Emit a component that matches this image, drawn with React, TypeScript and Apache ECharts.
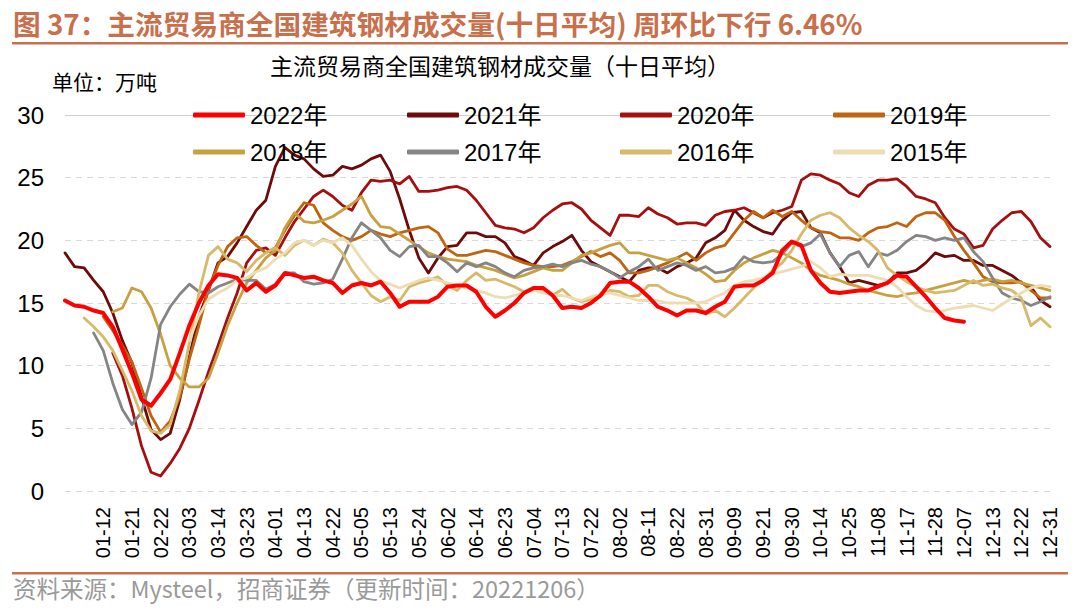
import React, { useEffect, useRef } from "react";
import * as echarts from "echarts";

const categories = [
  "01-04","01-06","01-07","01-10","01-12","01-14","01-18","01-21","02-10","02-17",
  "02-22","02-24","03-01","03-03","03-08","03-10","03-14","03-16","03-21","03-23",
  "03-28","03-30","04-01","04-07","04-11","04-13","04-18","04-20","04-22","04-27",
  "04-29","05-05","05-09","05-11","05-13","05-18","05-20","05-24","05-26","05-30",
  "06-02","06-07","06-09","06-14","06-16","06-21","06-23","06-28","06-30","07-04",
  "07-06","07-11","07-13","07-18","07-20","07-22","07-27","07-29","08-02","08-04",
  "08-09","08-11","08-16","08-18","08-22","08-25","08-29","08-31","09-02","09-07",
  "09-09","09-14","09-16","09-21","09-23","09-28","09-30","10-10","10-12","10-14",
  "10-19","10-21","10-25","10-28","11-02","11-08","11-11","11-15","11-17","11-22",
  "11-24","11-28","12-01","12-05","12-07","12-09","12-12","12-13","12-16","12-20",
  "12-22","12-27","12-29","12-31"
];

const yTicks = [0, 5, 10, 15, 20, 25, 30];

const s2022 = [
  15.2,14.8,14.7,14.4,14.2,13.1,11.3,9.4,7.3,6.8,
  7.8,8.9,11.0,13.2,15.0,16.4,17.3,17.2,17.0,16.0,
  16.6,15.9,16.4,17.4,17.2,17.0,17.1,16.8,16.6,15.8,
  16.4,16.6,16.4,16.7,15.8,14.7,15.1,15.1,15.1,15.5,
  16.3,16.4,16.4,15.9,14.7,13.9,14.4,15.0,15.8,16.2,
  16.2,15.6,14.6,14.7,14.6,15.0,15.6,16.6,16.7,16.7,
  16.2,15.5,14.7,14.4,14.0,14.4,14.4,14.2,14.7,15.1,
  16.3,16.4,16.4,16.8,17.4,19.2,19.9,19.6,17.6,16.6,
  15.9,15.8,15.9,16.0,16.0,16.3,16.6,17.2,17.1,16.3,
  15.5,14.6,13.8,13.6,13.5,null,null,null,null,null,
  null,null,null,null
];

const s2021 = [
  19.0,17.9,17.8,16.8,15.9,14.2,12.0,10.2,7.5,4.9,
  4.1,4.6,7.3,10.7,13.9,16.0,18.2,18.7,19.8,21.1,
  22.4,23.2,25.9,27.4,26.8,26.5,25.7,25.1,25.2,25.9,
  25.7,26.0,26.5,26.8,25.5,23.3,20.8,18.6,17.4,18.6,
  19.5,19.6,20.6,20.6,20.3,20.3,19.8,18.7,18.4,18.0,
  19.0,19.5,19.9,20.4,19.2,18.3,17.9,17.5,17.1,16.7,
  17.6,17.8,17.8,17.4,17.9,18.2,18.6,19.8,20.2,20.8,
  22.4,21.6,21.1,20.7,20.5,21.6,22.2,22.3,21.0,20.6,
  19.0,17.9,16.6,16.8,16.6,16.4,16.6,17.4,17.4,17.6,
  18.2,19.0,18.7,18.8,18.4,18.4,18.0,18.0,17.6,17.2,
  16.6,16.3,15.2,14.7
];

const s2020 = [
  null,null,null,null,null,11.0,9.2,6.6,3.6,1.5,
  1.2,2.2,3.4,5.0,7.2,9.5,11.6,13.8,15.8,18.2,
  19.2,19.4,18.8,20.2,21.5,22.5,23.5,24.0,23.5,22.8,
  22.4,23.8,24.8,24.7,24.8,24.5,25.1,23.9,23.9,24.0,
  24.2,24.3,24.0,23.2,22.2,21.2,21.0,20.9,20.6,21.0,
  21.8,22.4,22.9,23.0,22.5,21.6,21.0,20.4,22.0,22.0,
  21.9,22.6,22.1,21.8,21.3,21.4,21.4,21.2,22.0,22.3,
  22.4,22.6,22.2,21.8,22.2,22.4,22.7,24.8,25.3,25.2,
  24.8,24.5,23.8,23.5,24.4,24.8,24.8,24.9,24.3,23.5,
  23.3,23.0,21.8,20.9,20.5,19.4,19.6,20.9,21.6,22.2,
  22.3,21.5,20.2,19.5
];

const s2019 = [
  null,null,null,null,13.9,12.8,11.6,10.3,8.2,6.0,
  4.7,5.6,7.5,10.5,13.2,16.1,18.0,19.5,20.2,20.3,
  19.6,19.0,19.4,20.8,22.0,23.0,22.8,21.4,20.8,20.3,
  20.0,20.3,20.8,20.5,20.3,20.6,20.8,21.0,21.1,20.6,
  19.3,18.8,18.8,19.0,19.2,19.1,18.8,18.5,18.2,18.0,
  17.9,17.9,18.0,18.3,18.7,19.1,18.7,19.0,18.4,17.4,
  17.4,17.6,17.9,18.2,18.6,19.0,18.4,19.0,19.4,19.6,
  20.6,21.6,22.3,21.8,22.4,21.9,22.3,21.6,21.0,20.7,
  20.6,20.2,20.2,20.0,20.6,21.0,21.1,21.4,21.1,21.9,
  22.2,22.2,21.6,20.3,19.2,18.2,17.1,16.7,16.6,16.6,
  16.7,16.0,15.4,15.4
];

const s2018 = [
  null,null,null,null,null,14.3,14.6,16.2,15.9,14.6,
  12.5,10.0,9.0,8.3,8.3,9.0,11.0,13.2,15.0,16.6,
  17.6,18.6,19.2,21.0,22.2,21.5,21.4,21.6,21.9,22.4,
  22.9,23.5,22.0,21.1,21.0,20.5,20.0,19.5,19.0,18.7,
  18.5,18.4,18.3,18.0,17.8,17.6,17.3,17.0,17.2,17.5,
  17.8,17.6,17.6,18.2,18.8,19.0,19.3,19.6,19.8,19.0,
  19.0,18.8,18.6,18.4,18.6,18.2,17.8,17.3,16.7,16.8,
  17.6,18.2,18.6,18.9,19.2,19.0,18.6,18.2,17.6,17.2,
  17.0,16.8,16.5,16.3,16.0,15.8,15.6,15.5,15.7,15.8,
  16.0,16.2,16.4,16.6,16.8,16.6,16.8,16.9,16.7,16.8,
  16.6,16.4,16.2,16.0
];

const s2017 = [
  null,null,null,12.6,11.2,8.6,6.5,5.3,6.3,9.0,
  13.3,14.7,15.7,16.5,15.9,15.8,16.3,16.6,16.9,16.8,
  16.8,16.1,16.5,17.4,17.4,16.7,16.5,16.6,16.9,18.5,
  20.2,21.4,20.8,20.2,19.2,18.7,19.5,19.6,18.7,18.7,
  18.2,17.5,18.2,17.9,18.2,17.9,17.4,17.1,17.6,17.8,
  17.9,18.1,17.9,18.2,18.4,18.1,17.9,17.5,17.0,17.5,
  17.9,18.5,17.6,17.9,18.2,18.0,17.6,17.9,17.4,17.5,
  17.8,18.7,18.3,18.2,18.3,18.9,19.8,19.5,19.8,20.5,
  19.0,17.9,18.8,19.1,17.9,19.0,18.8,19.2,19.9,20.4,
  20.3,20.0,20.2,20.0,20.2,19.1,18.3,17.0,15.8,15.4,
  15.2,14.8,15.1,15.5
];

const s2016 = [
  null,null,13.8,13.1,12.3,11.2,9.6,8.0,6.0,4.8,
  4.6,5.3,8.0,11.8,15.8,18.8,19.5,18.5,18.2,17.5,
  18.4,19.0,19.4,18.8,19.6,20.0,19.6,20.1,19.8,19.0,
  17.6,16.6,15.6,15.1,15.5,15.2,16.3,16.6,16.8,17.1,
  16.4,16.0,16.8,17.4,16.8,16.9,16.6,16.3,15.9,16.2,
  16.0,15.6,16.1,15.4,15.1,15.3,15.6,16.0,15.9,15.5,
  15.6,16.4,16.4,15.9,15.6,15.4,15.0,14.1,14.4,13.9,
  14.6,15.4,16.2,16.8,17.6,18.2,19.2,20.5,21.6,22.0,
  22.2,21.8,21.0,20.4,19.9,19.2,17.8,17.2,16.7,16.3,
  16.0,15.8,15.9,16.0,16.4,16.8,16.4,16.5,16.2,16.0,
  15.4,13.2,13.8,13.1
];

const s2015 = [
  null,null,null,null,null,null,null,null,null,null,
  null,null,null,12.0,14.0,15.3,15.8,16.2,16.8,17.0,
  17.5,17.8,18.5,19.0,19.8,20.0,19.6,20.0,19.8,20.2,
  19.6,18.5,17.5,16.8,16.5,16.2,16.5,16.8,17.0,16.8,
  16.6,16.4,16.2,16.0,15.8,15.5,15.4,15.6,15.8,16.0,
  15.8,15.6,15.6,15.4,15.2,15.5,15.7,15.8,15.6,15.4,
  15.2,15.2,15.2,15.0,15.0,15.0,15.0,15.1,15.5,15.8,
  16.4,16.7,16.8,17.0,17.3,17.5,17.7,17.9,18.3,17.8,
  17.1,17.3,17.2,17.2,17.2,17.0,16.8,16.3,15.5,14.8,
  14.4,14.3,14.4,14.6,14.7,14.8,14.6,14.4,14.9,15.4,
  15.8,16.2,16.4,16.3
];

const seriesDefs = [
  { name: "2022年", data: s2022, color: "#FF0000", width: 4, z: 10 },
  { name: "2021年", data: s2021, color: "#6E0A0A", width: 2.8, z: 3 },
  { name: "2020年", data: s2020, color: "#A50F0F", width: 2.8, z: 3 },
  { name: "2019年", data: s2019, color: "#C0640F", width: 2.8, z: 3 },
  { name: "2018年", data: s2018, color: "#C8A040", width: 2.8, z: 3 },
  { name: "2017年", data: s2017, color: "#858585", width: 2.8, z: 3 },
  { name: "2016年", data: s2016, color: "#D8B869", width: 2.8, z: 3 },
  { name: "2015年", data: s2015, color: "#EEDDB3", width: 2.8, z: 3 },
];

const legendLeft = [193, 407, 620, 833];
const legendTop = [103, 140];

const LATIN = "'Liberation Sans', Arial, 'Noto Sans CJK SC', sans-serif";
const CJK = "'Noto Sans CJK SC', 'Liberation Sans', sans-serif";

export default function App() {
  const ref = useRef<HTMLDivElement>(null);
  useEffect(() => {
    document.body.style.margin = "0";
    const chart = echarts.init(ref.current as HTMLDivElement, null, { renderer: "svg" });
    const option: any = {
      animation: false,
      backgroundColor: "#ffffff",
      grid: { left: 65, right: 30, top: 115, bottom: 119, containLabel: false },
      legend: seriesDefs.map((s, i) => ({
        data: [s.name],
        left: legendLeft[i % 4],
        top: legendTop[Math.floor(i / 4)],
        icon: "roundRect",
        itemWidth: 52,
        itemHeight: 5,
        padding: 0,
        selectedMode: false,
        textStyle: { fontSize: 24, color: "#000", fontFamily: LATIN },
      })),
      xAxis: {
        type: "category",
        data: categories,
        boundaryGap: false,
        axisLine: { show: false },
        axisTick: { show: false },
        splitLine: { show: false },
        axisLabel: {
          rotate: 90,
          fontSize: 20,
          color: "#000",
          fontFamily: LATIN,
          margin: 16,
          interval: (idx: number) => idx >= 4 && (idx - 4) % 3 === 0,
        },
      },
      yAxis: {
        type: "value",
        min: yTicks[0],
        max: yTicks[yTicks.length - 1],
        interval: 5,
        axisLine: { show: false },
        axisTick: { show: false },
        axisLabel: { fontSize: 24, color: "#000", fontFamily: LATIN, margin: 21 },
        splitLine: { lineStyle: { color: "#D9D9D9", type: [6, 5], width: 1 } },
      },
      series: seriesDefs.map((s, i) => ({
        name: s.name,
        type: "line",
        data: s.data,
        showSymbol: false,
        symbol: "none",
        connectNulls: false,
        z: s.z,
        color: s.color,
        lineStyle: { color: s.color, width: s.width, cap: "round", join: "round" },
        markLine:
          i === 0
            ? {
                silent: true,
                symbol: "none",
                label: { show: false },
                lineStyle: { color: "#D0D0D0", type: "solid", width: 1 },
                data: [{ yAxis: 30 }],
                z: 1,
              }
            : undefined,
      })),
      graphic: [
        {
          type: "text",
          x: 13,
          y: 23,
          style: {
            text: "图 37：主流贸易商全国建筑钢材成交量(十日平均) 周环比下行 6.46%",
            font: "bold 27.7px 'Noto Sans CJK SC', 'Liberation Sans', sans-serif",
            fill: "#C8704C",
            verticalAlign: "middle",
            align: "left",
          },
        },
        { type: "rect", shape: { x: 12, y: 42, width: 1056, height: 2.5 }, style: { fill: "#C8704C" } },
        {
          type: "text",
          x: 270,
          y: 65,
          style: {
            text: "主流贸易商全国建筑钢材成交量（十日平均）",
            font: "23px " + CJK,
            fill: "#000",
            verticalAlign: "middle",
          },
        },
        {
          type: "text",
          x: 52,
          y: 81,
          style: { text: "单位：万吨", font: "21px " + CJK, fill: "#000", verticalAlign: "middle" },
        },
        { type: "rect", shape: { x: 12, y: 572, width: 1056, height: 2.5 }, style: { fill: "#C8704C" } },
        {
          type: "text",
          x: 13,
          y: 588,
          style: {
            text: "资料来源：Mysteel，招商证券（更新时间：20221206）",
            font: "23.5px " + CJK,
            fill: "#9A9A9A",
            verticalAlign: "middle",
          },
        },
      ],
    };
    chart.setOption(option);
    return () => chart.dispose();
  }, []);
  return (
    <div
      ref={ref}
      style={{ position: "absolute", left: 0, top: 0, width: 1080, height: 610, background: "#fff" }}
    />
  );
}
